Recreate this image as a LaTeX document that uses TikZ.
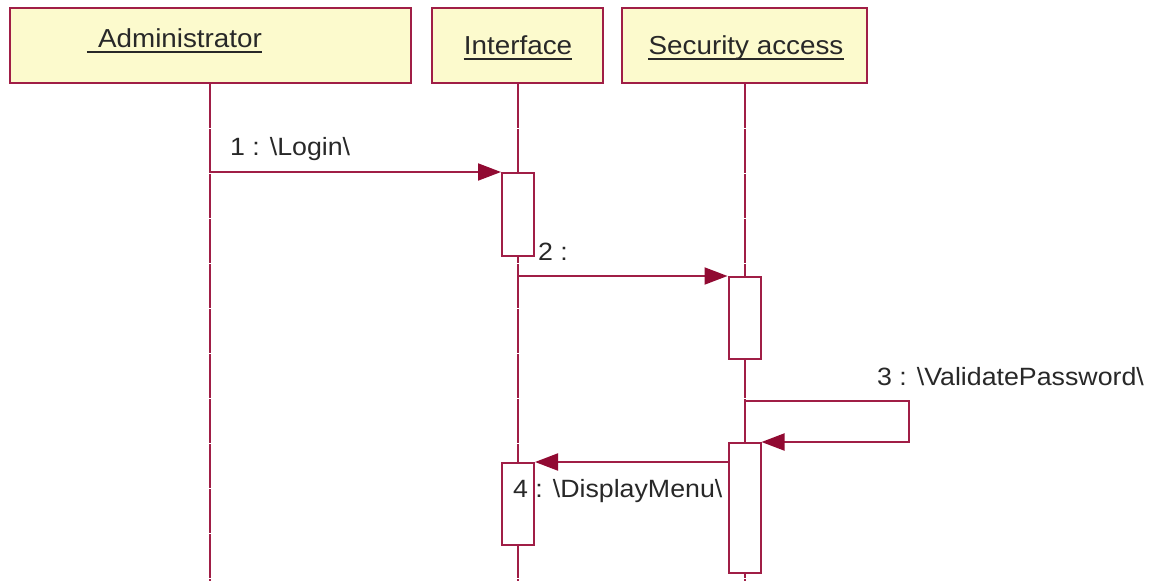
\documentclass[tikz,border=0pt]{standalone}
\usepackage{fontspec}
\setmainfont{Liberation Sans}[FakeStretch=1.07]
\usetikzlibrary{arrows.meta}
\definecolor{umlline}{RGB}{160,30,70}
\definecolor{umlhead}{RGB}{145,10,50}
\definecolor{umlfill}{RGB}{252,250,205}
\definecolor{umltext}{RGB}{40,40,40}
\begin{document}
\begin{tikzpicture}[x=1pt,y=-1pt,
  objbox/.style={draw=umlline, fill=umlfill, line width=2pt, minimum height=75pt, inner sep=0pt},
  hdr/.style={font=\fontsize{26}{30}\selectfont, text=umltext, inner sep=0pt, anchor=base},
  msgtext/.style={font=\fontsize{25}{30}\selectfont, text=umltext, inner sep=0pt, anchor=base west},
  lifeline/.style={draw=umlline, line width=2pt, dash pattern=on 44pt off 1pt},
  actbox/.style={draw=umlline, fill=white, line width=2pt, minimum width=32pt, inner sep=0pt},
  msg/.style={draw=umlline, line width=2pt, -{Triangle[length=23pt,width=17pt,fill=umlhead,color=umlhead]}},
  uline/.style={line width=2.6pt, draw=umltext}]
\useasboundingbox (0,0) rectangle (1159,581);
\coordinate (bottom) at (0,581);
% object boxes
\node[objbox, minimum width=401pt] (adm) at (210,45.5) {};
\node[objbox, minimum width=171pt] (intf) at (517.5,45.5) {};
\node[objbox, minimum width=245pt] (sec) at (744.5,45.5) {};
% headers
\node[hdr] (admlbl) at (180,47) {Administrator};
\node[hdr] (intlbl) at (518,54) {Interface};
\node[hdr] (seclbl) at (746,54) {Security access};
\draw[uline] ([xshift=-11pt,yshift=-5pt]admlbl.base west) -- ([yshift=-5pt]admlbl.base east);
\draw[uline] ([yshift=-5pt]intlbl.base west) -- ([yshift=-5pt]intlbl.base east);
\draw[uline] ([yshift=-5pt]seclbl.base west) -- ([yshift=-5pt]seclbl.base east);
% lifelines
\draw[lifeline] (adm.south) -- (adm.south |- bottom);
\draw[lifeline] (intf.south) -- (intf.south |- bottom);
\draw[lifeline] (sec.south) -- (sec.south |- bottom);
% activations
\node[actbox, minimum height=83pt] (act1) at (518,214.5) {};
\node[actbox, minimum height=82pt] (act2) at (744.5,318) {};
\node[actbox, minimum height=130pt] (act3) at (744.5,508) {};
\node[actbox, minimum height=82pt] (act4) at (518,504) {};
% messages
\draw[msg] (adm.south |- act1.north) -- (act1.north west);
\draw[msg] (intf.south |- act2.north) -- (act2.north west);
\coordinate (selfa) at (909,401);
\coordinate (selfb) at (909,442);
\draw[msg] (sec.south |- selfa) -- (selfa) -- (selfb) -- (selfb -| act3.east);
\draw[msg] (act3.west |- act4.north) -- (act4.north east);
% labels
\node[msgtext] (l1) at (230,155) {1 : \textbackslash Login\textbackslash};
\node[msgtext] (l2) at (538,260) {2 :};
\node[msgtext] (l3) at (877,385) {3 : \textbackslash ValidatePassword\textbackslash};
\node[msgtext] (l4) at (513,497) {4 : \textbackslash DisplayMenu\textbackslash};
\end{tikzpicture}
\end{document}
